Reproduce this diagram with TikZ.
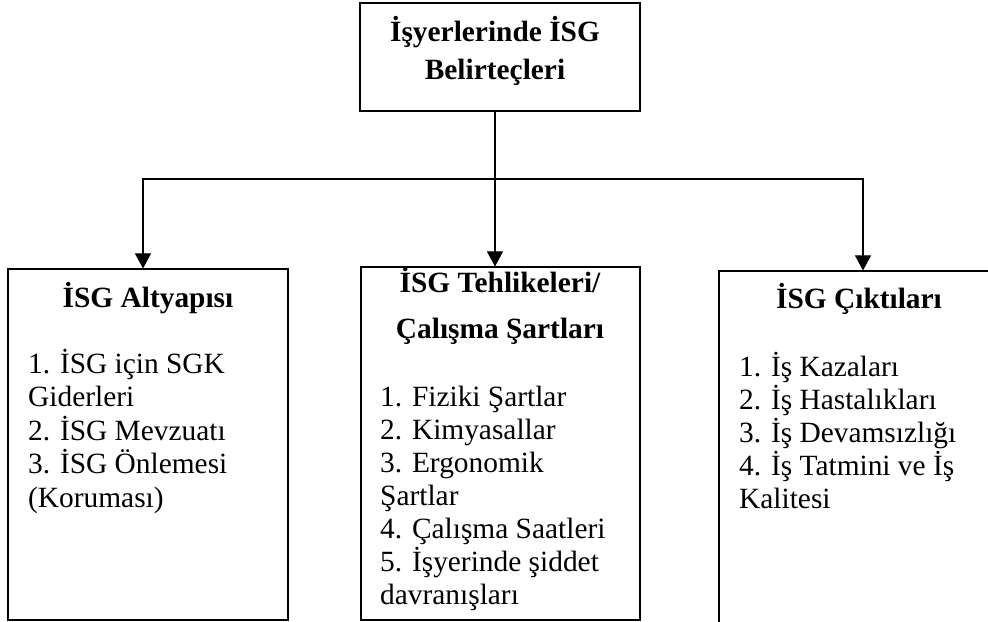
\documentclass[tikz,border=0pt]{standalone}
\usepackage{fontspec}
\setmainfont{Liberation Serif}
\usetikzlibrary{arrows.meta}
\tikzset{
  box/.style={rectangle,draw,line width=1.1bp,inner sep=0pt},
  title/.style={inner sep=0pt,anchor=base,font=\fontsize{29.5}{34}\selectfont\bfseries},
  body/.style={inner sep=0pt,anchor=base west,font=\fontsize{29.5}{34}\selectfont},
  arr/.style={line width=1.1bp,-{Triangle[length=15bp,width=16bp]}}
}
\begin{document}
\begin{tikzpicture}[x=1bp,y=-1bp]
      \clip (0,0) rectangle (988,622);
      % boxes
      \node[box,minimum width = 280bp, minimum height = 108bp] (isg) at (500,57) {};
      \node[box,minimum width = 280bp, minimum height = 351bp] (altyapi) at (148,444.5) {};
      \node[box,minimum width = 279bp, minimum height = 353bp] (tehlike) at (500.5,443.5) {};
      \node[box,minimum width = 288bp, minimum height = 369bp] (cikti) at (863,455.5) {};
      % titles
      \node[title] (isgT1) at (495,42) {İşyerlerinde İSG};
      \node[title] (isgT2) at (495,80) {Belirteçleri};
      \node[title] (altyapiT) at (148,307) {İSG Altyapısı};
      \node[title] (tehlikeT1) at (500,293) {İSG Tehlikeleri/};
      \node[title] (tehlikeT2) at (500,338) {Çalışma Şartları};
      \node[title] (ciktiT) at (859,308) {İSG Çıktıları};
      % item lists
      \foreach \t [count=\i from 0] in {1. İSG için SGK, Giderleri, 2. İSG Mevzuatı,
        3. İSG Önlemesi, {(Koruması)}}
        \node[body] (altyapi-\i) at (28,373+33.5*\i) {\t};
      \foreach \t [count=\i from 0] in {1. Fiziki Şartlar, 2. Kimyasallar, 3. Ergonomik,
        Şartlar, 4. Çalışma Saatleri, 5. İşyerinde şiddet, davranışları}
        \node[body] (tehlike-\i) at (380,406+33*\i) {\t};
      \foreach \t [count=\i from 0] in {1. İş Kazaları, 2. İş Hastalıkları, 3. İş Devamsızlığı,
        4. İş Tatmini ve İş, Kalitesi}
        \node[body] (cikti-\i) at (739,376+33*\i) {\t};
      % connectors
      \coordinate (split) at (495,179);
      \draw[line width=1.1bp] (split |- isg.south) -- (split);
      \draw[arr] (split) -- (split |- tehlike.north);
      \draw[arr] (split) -| ([xshift=-5bp]altyapi.north);
      \draw[arr] (split) -| (cikti.north);
    \end{tikzpicture}
\end{document}
